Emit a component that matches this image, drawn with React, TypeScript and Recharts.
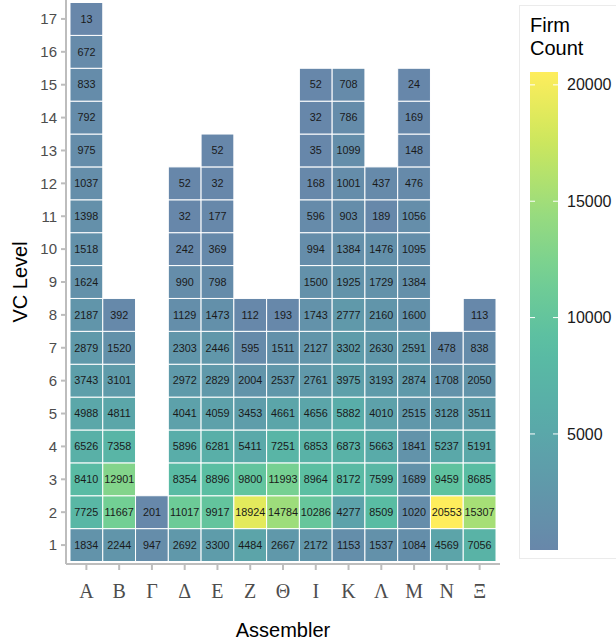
import React from 'react';
import { ScatterChart, Scatter, XAxis, YAxis, Label } from 'recharts';

// ---- data ----
const assemblers = ['Α', 'Β', 'Γ', 'Δ', 'Ε', 'Ζ', 'Θ', 'Ι', 'Κ', 'Λ', 'Μ', 'Ν', 'Ξ'];
const levelTicks = [1, 2, 3, 4, 5, 6, 7, 8, 9, 10, 11, 12, 13, 14, 15, 16, 17];
// firm counts per assembler, from VC level 1 upward
const colA = [1834, 7725, 8410, 6526, 4988, 3743, 2879, 2187, 1624, 1518, 1398, 1037, 975, 792, 833, 672, 13];
const colB = [2244, 11667, 12901, 7358, 4811, 3101, 1520, 392];
const colG = [947, 201];
const colD = [2692, 11017, 8354, 5896, 4041, 2972, 2303, 1129, 990, 242, 32, 52];
const colE = [3300, 9917, 8896, 6281, 4059, 2829, 2446, 1473, 798, 369, 177, 32, 52];
const colZ = [4484, 18924, 9800, 5411, 3453, 2004, 595, 112];
const colTh = [2667, 14784, 11993, 7251, 4661, 2537, 1511, 193];
const colI = [2172, 10286, 8964, 6853, 4656, 2761, 2127, 1743, 1500, 994, 596, 168, 35, 32, 52];
const colK = [1153, 4277, 8172, 6873, 5882, 3975, 3302, 2777, 1925, 1384, 903, 1001, 1099, 786, 708];
const colL = [1537, 8509, 7599, 5663, 4010, 3193, 2630, 2160, 1729, 1476, 189, 437];
const colM = [1084, 1020, 1689, 1841, 2515, 2874, 2591, 1600, 1384, 1095, 1056, 476, 148, 169, 24];
const colN = [4569, 20553, 9459, 5237, 3128, 1708, 478];
const colX = [7056, 15307, 8685, 5191, 3511, 2050, 838, 113];
const columns = [colA, colB, colG, colD, colE, colZ, colTh, colI, colK, colL, colM, colN, colX];
const legendTicks = [5000, 10000, 15000, 20000];

const data: { x: number; y: number; value: number }[] = [];
columns.forEach((col, i) => col.forEach((v, j) => data.push({ x: i + 1, y: j + 1, value: v })));
const allVals = columns.flat();
const vMin = Math.min(...allVals);
const vMax = Math.max(...allVals);

// ---- colour scale (viridis from 0.3, alpha .75 over white) ----
const VIR = ['#440154', '#482475', '#414487', '#355F8D', '#2A788E', '#21918C', '#22A884', '#44BF70', '#7AD151', '#BDDF26', '#FDE725'];
const hex2rgb = (h: string) => [1, 3, 5].map((k) => parseInt(h.slice(k, k + 2), 16));
function viridis(t: number) {
  const p = Math.max(0, Math.min(1, t)) * 10;
  const i = Math.min(9, Math.floor(p));
  const f = p - i;
  const a = hex2rgb(VIR[i]);
  const b = hex2rgb(VIR[i + 1]);
  return a.map((c, k) => c + (b[k] - c) * f);
}
function colorFor(v: number) {
  const t = (v - vMin) / (vMax - vMin);
  const rgb = viridis(0.3 + 0.7 * t).map((c) => Math.round(0.75 * c + 0.25 * 255));
  return `rgb(${rgb[0]},${rgb[1]},${rgb[2]})`;
}

// ---- layout ----
const W = 616;
const H = 642;
const PL = 66, PR = 500, PT = 0, PB = 564;
const padX = 4, padY = 2.5;
const cellW = (PR - PL - 2 * padX) / assemblers.length;
const cellH = (PB - PT - 2 * padY) / levelTicks.length;
const xDomain = [0.5 - padX / cellW, assemblers.length + 0.5 + padX / cellW];
const yDomain = [0.5 - padY / cellH, levelTicks.length + 0.5 + padY / cellH];

const SANS = '"Liberation Sans", Arial, Helvetica, sans-serif';

const CellShape = (props: any) => {
  const { cx, cy, payload } = props;
  if (cx == null || cy == null) return null;
  return (
    <g>
      <rect x={cx - cellW / 2} y={cy - cellH / 2} width={cellW} height={cellH} fill={colorFor(payload.value)} stroke="#ffffff" strokeWidth={1} />
      <text x={cx} y={cy} dy="0.35em" textAnchor="middle" fontSize={10.8} fontFamily={SANS} fill="#1a1a1a">
        {payload.value}
      </text>
    </g>
  );
};

const Legend = () => {
  const barX = 530, barY = 72, barW = 28, barH = 478;
  const yOf = (v: number) => barY + barH - ((v - vMin) / (vMax - vMin)) * barH;
  const stops = Array.from({ length: 21 }, (_, k) => k / 20);
  return (
    <svg width={W} height={H} style={{ position: 'absolute', left: 0, top: 0, pointerEvents: 'none' }}>
      <defs>
        <linearGradient id="fc" x1="0" y1="1" x2="0" y2="0">
          {stops.map((s) => (
            <stop key={s} offset={s} stopColor={colorFor(vMin + s * (vMax - vMin))} />
          ))}
        </linearGradient>
      </defs>
      <rect x={519.5} y={5.5} width={120} height={553} fill="#ffffff" stroke="#ebebeb" strokeWidth={1} />
      <text x={530} y={32} fontSize={20} fontFamily={SANS} fill="#000">Firm</text>
      <text x={530} y={55} fontSize={20} fontFamily={SANS} fill="#000">Count</text>
      <rect x={barX} y={barY} width={barW} height={barH} fill="url(#fc)" />
      {legendTicks.map((t) => (
        <g key={t}>
          <line x1={barX} x2={barX + 5} y1={yOf(t)} y2={yOf(t)} stroke="#ffffff" strokeWidth={1} />
          <line x1={barX + barW - 5} x2={barX + barW} y1={yOf(t)} y2={yOf(t)} stroke="#ffffff" strokeWidth={1} />
          <text x={567} y={yOf(t)} dy="0.35em" fontSize={16} fontFamily={SANS} fill="#1a1a1a">{t}</text>
        </g>
      ))}
    </svg>
  );
};

export default function App() {
  return (
    <div style={{ position: 'absolute', left: 0, top: 0, width: W, height: H, background: '#fff' }}>
      <ScatterChart width={W} height={H} margin={{ top: PT, right: W - PR, bottom: 0, left: 0 }} style={{ fontFamily: SANS }}>
        <XAxis
          type="number"
          dataKey="x"
          domain={xDomain}
          ticks={assemblers.map((_, i) => i + 1)}
          tickFormatter={(v: number) => assemblers[v - 1] ?? ''}
          interval={0}
          allowDataOverflow
          height={H - PB}
          axisLine={{ stroke: '#bdbdbd', strokeWidth: 2 }}
          tickLine={{ stroke: '#bdbdbd', strokeWidth: 2 }}
          tickSize={6}
          tickMargin={14}
          tick={{ fill: '#4d4d4d', fontSize: 20, fontFamily: '"Liberation Serif", "Times New Roman", serif' }}
        >
          <Label value="Assembler" position="insideBottom" offset={5} fill="#000" fontSize={20} fontFamily={SANS} />
        </XAxis>
        <YAxis
          type="number"
          dataKey="y"
          domain={yDomain}
          ticks={levelTicks}
          interval={0}
          allowDataOverflow
          width={PL}
          axisLine={{ stroke: '#bdbdbd', strokeWidth: 2 }}
          tickLine={{ stroke: '#bdbdbd', strokeWidth: 2 }}
          tickSize={5}
          tickMargin={4}
          tick={{ fill: '#4d4d4d', fontSize: 15, fontFamily: SANS }}
        >
          <Label
            content={(p: any) => {
              const vb = p.viewBox || {};
              const cy = (vb.y ?? 0) + (vb.height ?? 0) / 2;
              return (
                <text x={27} y={cy} transform={`rotate(-90 27 ${cy})`} textAnchor="middle" fontSize={20} fontFamily={SANS} fill="#000">
                  VC Level
                </text>
              );
            }}
          />
        </YAxis>
        <Scatter data={data} shape={CellShape} isAnimationActive={false} />
      </ScatterChart>
      <Legend />
    </div>
  );
}
